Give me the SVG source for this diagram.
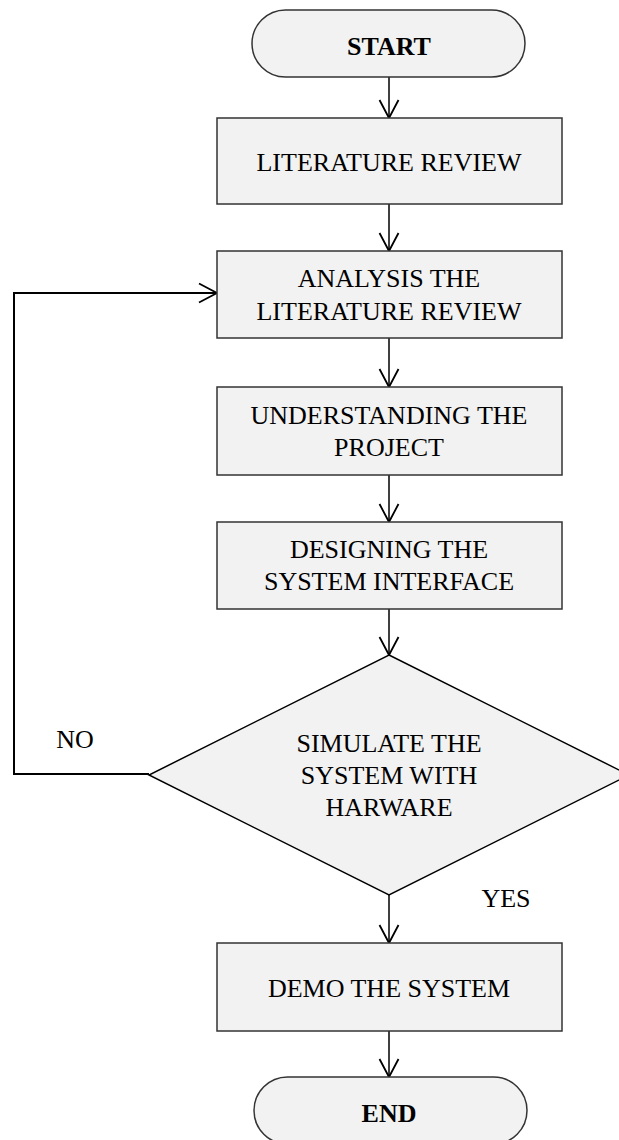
<svg xmlns="http://www.w3.org/2000/svg" width="619" height="1140" viewBox="0 0 619 1140">
<defs>
<style>
.box{fill:#f2f2f2;stroke:#333;stroke-width:1.5}
.t{font-family:"Liberation Serif","Times New Roman",serif;font-size:26px;fill:#000;text-anchor:middle}
.b{font-weight:bold}
.c{fill:none;stroke:#000;stroke-width:1.5}
.loop{fill:none;stroke:#000;stroke-width:2}
</style>
<marker id="arr" markerUnits="userSpaceOnUse" markerWidth="22" markerHeight="22" refX="18" refY="10" orient="auto" overflow="visible">
<path d="M0,0.5 L18,10 L0,19.5" fill="none" stroke="#000" stroke-width="1.8"/>
</marker>
</defs>
<rect width="619" height="1140" fill="#fff"/>
<g id="connectors">
<line class="c" x1="389" y1="77" x2="389" y2="118" marker-end="url(#arr)"/>
<line class="c" x1="389" y1="204" x2="389" y2="251" marker-end="url(#arr)"/>
<line class="c" x1="389" y1="338" x2="389" y2="387" marker-end="url(#arr)"/>
<line class="c" x1="389" y1="475" x2="389" y2="522" marker-end="url(#arr)"/>
<line class="c" x1="389" y1="609" x2="389" y2="655" marker-end="url(#arr)"/>
<line class="c" x1="389" y1="895" x2="389" y2="943" marker-end="url(#arr)"/>
<line class="c" x1="389" y1="1031" x2="389" y2="1077" marker-end="url(#arr)"/>
<polyline class="loop" points="149,774 14,774 14,293 217,293" marker-end="url(#arr)"/>
<text class="t" x="75" y="748">NO</text>
<text class="t" x="506" y="907">YES</text>
</g>
<g id="start">
<rect class="box" x="252" y="10" width="273" height="67" rx="33.5" ry="33.5"/>
<text class="t b" x="389" y="55">START</text>
</g>
<g id="literature">
<rect class="box" x="217" y="118" width="345" height="86"/>
<text class="t" x="389" y="171">LITERATURE REVIEW</text>
</g>
<g id="analysis">
<rect class="box" x="217" y="251" width="345" height="87"/>
<text class="t" x="389" y="287">ANALYSIS THE</text>
<text class="t" x="389" y="320">LITERATURE REVIEW</text>
</g>
<g id="understanding">
<rect class="box" x="217" y="387" width="345" height="88"/>
<text class="t" x="389" y="424">UNDERSTANDING THE</text>
<text class="t" x="389" y="456">PROJECT</text>
</g>
<g id="designing">
<rect class="box" x="217" y="522" width="345" height="87"/>
<text class="t" x="389" y="558">DESIGNING THE</text>
<text class="t" x="389" y="590">SYSTEM INTERFACE</text>
</g>
<g id="decision">
<polygon class="box" points="389,655 629,775 389,895 149,775" style="stroke:#000"/>
<text class="t" x="389" y="752">SIMULATE THE</text>
<text class="t" x="389" y="784">SYSTEM WITH</text>
<text class="t" x="389" y="816">HARWARE</text>
</g>
<g id="demo">
<rect class="box" x="217" y="943" width="345" height="88"/>
<text class="t" x="389" y="997">DEMO THE SYSTEM</text>
</g>
<g id="end">
<rect class="box" x="254" y="1077" width="273" height="67" rx="33.5" ry="33.5"/>
<text class="t b" x="389" y="1122">END</text>
</g>
</svg>
